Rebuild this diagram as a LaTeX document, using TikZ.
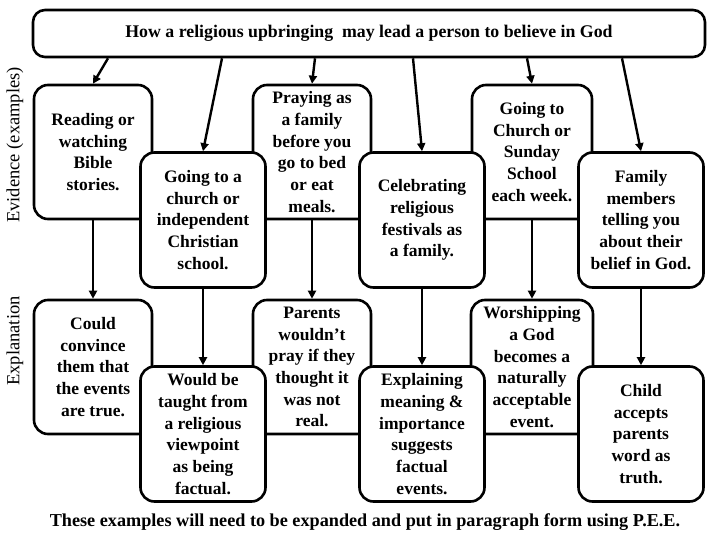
\documentclass[tikz,border=0pt]{standalone}
\usepackage{fontspec}
\setmainfont{Liberation Serif}
\newfontfamily\sidefont{Liberation Serif}
\usetikzlibrary{arrows.meta}
\tikzset{
  >={Triangle[length=8pt,width=8pt]},
  card/.style={draw=black,fill=white,rounded corners=14pt,line width=2.6pt,
    minimum width=#1,minimum height=134pt,align=center,inner sep=2pt,
    font=\bfseries\fontsize{17.5}{21.7}\selectfont},
  card/.default=118pt,
  wide card/.style={card=125pt,minimum height=135pt},
  flow/.style={->,line width=2.4pt},
  side/.style={rotate=90,font=\sidefont\fontsize{18.5}{20}\selectfont},
  note/.style={font=\bfseries\fontsize{18.2}{21}\selectfont},
}

\begin{document}
\begin{tikzpicture}[x=1pt,y=-1pt]
  \useasboundingbox (0,0) rectangle (720,540);
  % heading
  \node[card=672pt,minimum height=47pt,rounded corners=12pt,font=\bfseries\fontsize{17.8}{21}\selectfont] (title) at (369,33.5)
    {How a religious upbringing\ \ may lead a person to believe in God};
  % evidence row
  \node[card] (read) at (93,152) {Reading or\\watching\\Bible\\stories.};
  \node[card] (pray) at (312,152) {Praying as\\a family\\before you\\go to bed\\or eat\\meals.};
  \node[card=120pt] (sunday) at (532,152) {Going to\\Church or\\Sunday\\School\\each week.};
  \node[wide card] (school) at (203,220) {Going to a\\church or\\independent\\Christian\\school.};
  \node[wide card] (fest) at (422,220) {Celebrating\\religious\\festivals as\\a family.};
  \node[wide card] (family) at (641,220) {Family\\members\\telling you\\about their\\belief in God.};
  % explanation row
  \node[card] (convince) at (93,367) {Could\\convince\\them that\\the events\\are true.};
  \node[card] (parents) at (312,367) {Parents\\wouldn't\\pray if they\\thought it\\was not\\real.};
  \node[card=122pt] (worship) at (532,367) {Worshipping\\a God\\becomes a\\naturally\\acceptable\\event.};
  \node[wide card] (taught) at (203,434) {Would be\\taught from\\a religious\\viewpoint\\as being\\factual.};
  \node[wide card] (meaning) at (422,434) {Explaining\\meaning \&\\importance\\suggests\\factual\\events.};
  \node[wide card] (accept) at (641,434) {Child\\accepts\\parents\\word as\\truth.};
  % side labels
  \node[side] (evid) at (15,145) {Evidence (examples)};
  \node[side] (expl) at (15,341) {Explanation};
  \node[note] (pee) at (365,522) {These examples will need to be expanded and put in paragraph form using P.E.E.};
  % arrows
  \draw[flow] ([xshift=-261pt]title.south) -- (read.north);
  \draw[flow] ([xshift=-147pt]title.south) -- (school.north);
  \draw[flow] ([xshift=-54pt]title.south) -- (pray.north);
  \draw[flow] ([xshift=44pt]title.south) -- (fest.north);
  \draw[flow] ([xshift=158pt]title.south) -- (sunday.north);
  \draw[flow] ([xshift=253pt]title.south) -- (family.north);
  \foreach \a/\b in {read/convince,school/taught,pray/parents,fest/meaning,sunday/worship,family/accept}
    \draw[flow] (\a) -- (\b);
\end{tikzpicture}
\end{document}
